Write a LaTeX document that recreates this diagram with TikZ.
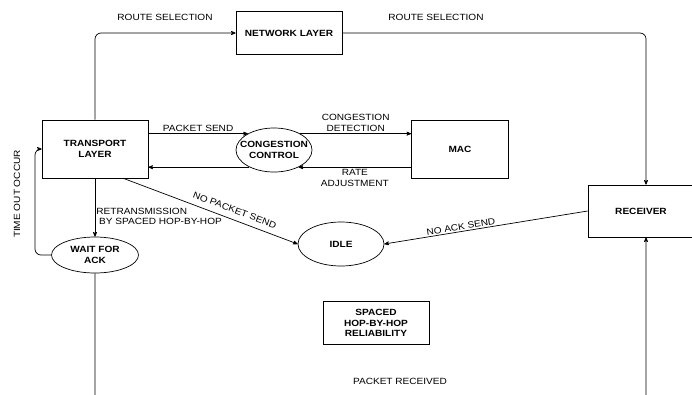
\documentclass[tikz,border=0pt]{standalone}
\usepackage{fontspec}
\setmainfont{Liberation Sans}[FakeStretch=1.12]
\usetikzlibrary{shapes.geometric,arrows,positioning}
\tikzset{
  layer/.style={ % plain box for a layer or block
    draw, rectangle, line width=0.7pt,
    font=\bfseries\fontsize{9}{10.5}\selectfont,
    align=center, inner sep=0pt, text=black
  },
  state/.style={ % empty ellipse, its text comes as a label
    draw, ellipse, line width=0.7pt, inner sep=0pt
  },
  statetext/.style={
    font=\bfseries\fontsize{9}{10.5}\selectfont, align=center, inner sep=0pt
  },
  lbl/.style={ % text on the connectors
    font=\fontsize{9}{10.5}\selectfont, align=center, inner sep=1pt
  },
  flow/.style={->, >=stealth', line width=0.7pt, rounded corners=6pt}
}
\begin{document}
\begin{tikzpicture}[x=1pt, y=-1pt]
  \useasboundingbox (0,0) rectangle (692,394);
  \clip (0,0) rectangle (692,394);

  % blocks
  \node[layer, minimum width=106, minimum height=43] (nl) at (289,33) {NETWORK LAYER};
  \node[layer, minimum width=106, minimum height=58] (tl) at (95,149) {TRANSPORT\\LAYER};
  \node[layer, minimum width=97, minimum height=58] (mac) at (460,149) {MAC};
  \node[layer, minimum width=106, minimum height=52] (rc) at (641,211) {RECEIVER};
  \node[layer, minimum width=106, minimum height=43] (sp) at (376,323) {SPACED\\HOP-BY-HOP\\RELIABILITY};

  % states
  \node[state, minimum width=76, minimum height=44,
        label={[statetext]center:CONGESTION\\CONTROL}] (cc) at (274,150) {};
  \node[state, minimum width=86, minimum height=44,
        label={[statetext]center:IDLE}] (idle) at (341,244) {};
  \node[state, minimum width=87, minimum height=36,
        label={[statetext]center:WAIT FOR\\ACK}] (wa) at (95,255) {};

  % helper points
  \coordinate (to) at (35,200);
  \coordinate (bot) at (400,420);

  % route selection over the network layer
  \draw[flow] (tl.north) |- (nl.west);
  \draw[flow] (nl.east) -| ([xshift=5]rc.north);
  \node[lbl] (rs1) at (165,17) {ROUTE SELECTION};
  \node[lbl] (rs2) at (436,17) {ROUTE SELECTION};

  % congestion loop
  \draw[flow] (tl.east |- cc.148) -- (cc.148)
    node[lbl, midway, above=1pt] (ps) {PACKET SEND};
  \draw[flow] (cc.32) -- (mac.west |- cc.32)
    node[lbl, midway, above=1pt] (cd) {CONGESTION\\DETECTION};
  \draw[flow] (mac.west |- cc.-35) -- (cc.-35)
    node[lbl, midway, below=1pt] (ra) {RATE\\ADJUSTMENT};
  \draw[flow] (cc.-145) -- (tl.east |- cc.-145);

  % idle
  \draw[flow] ([xshift=-25]tl.south east) -- (idle.west)
    node[lbl, sloped, pos=0.62, above=5pt] (nps) {NO PACKET SEND};
  \draw[flow] (rc.west) -- (idle.east)
    node[lbl, sloped, pos=0.62, above] (nas) {NO ACK SEND};

  % retransmission and time out
  \draw[flow] (tl.south) -- (wa.north)
    node[lbl, pos=0.65, anchor=west, align=left] (rt) {RETRANSMISSION\\\ BY SPACED HOP-BY-HOP};
  \draw[flow] (wa.west) -| (to) |- (tl.west);
  \node[lbl, rotate=90] (tmo) at (17,194) {TIME OUT OCCUR};

  % packet received
  \draw[flow] (wa.south) |- (bot) -| ([xshift=5]rc.south);
  \node[lbl] (pr) at (400,381) {PACKET RECEIVED};
\end{tikzpicture}
\end{document}
